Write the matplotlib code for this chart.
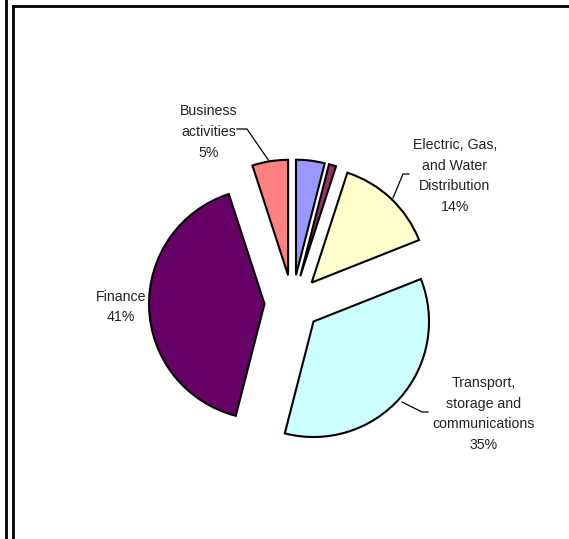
import matplotlib
matplotlib.use("Agg")
import matplotlib.pyplot as plt
from matplotlib.lines import Line2D

# Data (clockwise from 12 o'clock)
sectors = ["Other services", "Mining", "Electric, Gas,\nand Water\nDistribution",
           "Transport,\nstorage and\ncommunications", "Finance", "Business\nactivities"]
shares = [4, 1, 14, 35, 41, 5]
colors = ["#9999FF", "#993366", "#FFFFCC", "#CCFFFF", "#660066", "#FF8080"]
shown = [False, False, True, True, True, True]

W, H = 569, 539
fig = plt.figure(figsize=(W / 100, H / 100), dpi=100)
ax = fig.add_axes([0, 0, 1, 1])

cx, cy = 292.5, H - 303
R = 115.5
offset = 28
ax.pie(shares, colors=colors, startangle=90, counterclock=False,
       explode=[offset] * len(shares), radius=R, center=(cx, cy),
       wedgeprops=dict(edgecolor="black", linewidth=1.5), frame=True)
ax.set_xlim(0, W)
ax.set_ylim(0, H)
ax.set_aspect("equal")
ax.axis("off")

# label positions (pixel, from top)
label_pos = {2: (455, 176), 3: (484, 414), 4: (121, 307), 5: (209, 132)}
leaders = {2: [(409, 174), (403, 174), (393, 198)],
           3: [(428, 412), (422, 412), (402, 402)],
           5: [(237, 129), (247, 129), (269, 161)]}
font = dict(family=["Liberation Sans", "DejaVu Sans"], fontsize=10.2, color="#222222")
for i, (name, v) in enumerate(zip(sectors, shares)):
    if not shown[i]:
        continue
    x, y = label_pos[i]
    ax.text(x, H - y, f"{name}\n{v}%", ha="center", va="center",
            linespacing=1.62, **font)
    if i in leaders:
        pts = leaders[i]
        ax.plot([p[0] for p in pts], [H - p[1] for p in pts], color="black", lw=0.9)

# frame lines
lw = 2.0
ax.add_line(Line2D([6, 6], [0, H], color="black", lw=lw))
ax.add_line(Line2D([13.5, 13.5], [0, H - 6], color="black", lw=lw))
ax.add_line(Line2D([13.5, W], [H - 6, H - 6], color="black", lw=lw))

fig.savefig("out.png", dpi=100)
